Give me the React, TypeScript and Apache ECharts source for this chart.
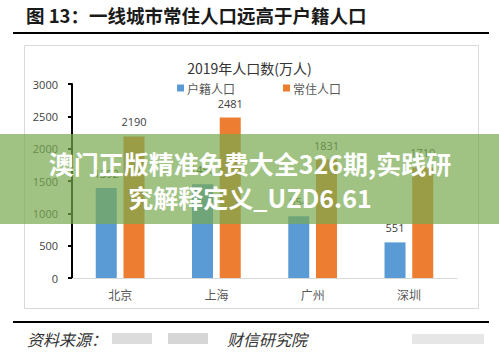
import React, { useEffect, useRef } from "react";
import * as echarts from "echarts";

const categories = ["北京", "上海", "广州", "深圳"];
const huji = [1392, 1450, 954, 551];
const changzhu = [2190, 2481, 1831, 1710];
const seriesNames = ["户籍人口", "常住人口"];
const yTicks = { min: 0, max: 3000, interval: 500 };

const CJK = '"Noto Sans CJK SC", "Noto Sans", sans-serif';

export default function App() {
  const ref = useRef<HTMLDivElement>(null);
  useEffect(() => {
    if (!ref.current) return;
    const chart = echarts.init(ref.current, undefined, { renderer: "svg" });
    chart.setOption({
      animation: false,
      backgroundColor: "#ffffff",
      title: {
        text: "2019年人口数(万人)",
        left: "center",
        top: 56,
        textStyle: { fontFamily: CJK, fontSize: 14, fontWeight: "normal", color: "#333333" },
      },
      legend: {
        data: seriesNames,
        left: 172,
        top: 77,
        itemWidth: 7,
        itemHeight: 7,
        itemGap: 48,
        icon: "rect",
        textStyle: { fontFamily: CJK, fontSize: 12, color: "#595959", padding: [0, 0, 0, -2] },
      },
      grid: { left: 72, right: 42, top: 84, bottom: 80 },
      xAxis: {
        type: "category",
        data: categories,
        axisLine: { lineStyle: { color: "#d9d9d9", width: 1 } },
        axisTick: { show: false },
        axisLabel: { fontFamily: CJK, fontSize: 12, color: "#595959", margin: 10 },
      },
      yAxis: {
        type: "value",
        min: yTicks.min,
        max: yTicks.max,
        interval: yTicks.interval,
        axisLine: { show: true, lineStyle: { color: "#000000", width: 2 } },
        axisTick: { show: true, length: 4, lineStyle: { color: "#000000", width: 2 } },
        splitLine: { show: false },
        axisLabel: {
          fontFamily: '"Open Sans", sans-serif',
          fontSize: 11,
          color: "#404040",
          margin: 14,
          formatter: (v: number) => String(v),
        },
      },
      series: [
        {
          name: seriesNames[0],
          type: "bar",
          data: huji,
          barWidth: 21,
          barGap: "32%",
          itemStyle: { color: "#5b9bd5" },
          label: { show: true, position: "top", distance: 9, fontSize: 11, color: "#404040", fontFamily: '"Open Sans", sans-serif' },
        },
        {
          name: seriesNames[1],
          type: "bar",
          data: changzhu,
          barWidth: 21,
          itemStyle: { color: "#ed7d31" },
          label: { show: true, position: "top", distance: 9, fontSize: 11, color: "#404040", fontFamily: '"Open Sans", sans-serif' },
        },
      ],
      graphic: [
        {
          type: "text",
          left: 26,
          top: 6,
          z: 10,
          style: {
            text: "图 13：一线城市常住人口远高于户籍人口",
            fontFamily: CJK,
            fontSize: 18.5,
            fontWeight: "bold",
            fill: "#1a1a1a",
          },
        },
        { type: "rect", z: 10, shape: { x: 13, y: 32, width: 476, height: 2 }, style: { fill: "#000000" } },
        {
          type: "rect",
          z: -1,
          shape: { x: 24.5, y: 45.5, width: 454, height: 263 },
          style: { fill: "none", stroke: "#d9d9d9", lineWidth: 1 },
        },
        { type: "rect", z: 10, shape: { x: 13, y: 321, width: 476, height: 2 }, style: { fill: "#000000" } },
        {
          type: "text",
          left: 27,
          top: 331,
          z: 10,
          style: { text: "资料来源：", fontFamily: CJK, fontSize: 16, fontStyle: "italic", fill: "#333333" },
        },
        { type: "rect", z: 10, shape: { x: 112, y: 333, width: 40, height: 11 }, style: { fill: "#dcdcdc" } },
        { type: "rect", z: 10, shape: { x: 168, y: 333, width: 40, height: 11 }, style: { fill: "#d6d6d6" } },
        {
          type: "text",
          left: 227,
          top: 331,
          z: 10,
          style: { text: "财信研究院", fontFamily: CJK, fontSize: 16, fontStyle: "italic", fill: "#333333" },
        },
        { type: "rect", z: 10, shape: { x: 412, y: 334, width: 72, height: 10 }, style: { fill: "#e6e6e6" } },
        {
          type: "rect",
          z: 100,
          shape: { x: 0, y: 134, width: 499, height: 90 },
          style: { fill: "rgba(120,170,80,0.7)" },
        },
        {
          type: "text",
          z: 101,
          x: 250,
          y: 163,
          style: {
            text: "澳门正版精准免费大全326期,实践研",
            fontFamily: CJK,
            fontSize: 25,
            fontWeight: "bold",
            fill: "#ffffff",
            align: "center",
            verticalAlign: "middle",
          },
        },
        {
          type: "text",
          z: 101,
          x: 250,
          y: 197,
          style: {
            text: "究解释定义_UZD6.61",
            fontFamily: CJK,
            fontSize: 25,
            fontWeight: "bold",
            fill: "#ffffff",
            align: "center",
            verticalAlign: "middle",
          },
        },
      ],
    });
    return () => chart.dispose();
  }, []);
  return (
    <div
      ref={ref}
      style={{ position: "fixed", left: 0, top: 0, width: 499, height: 358 }}
    />
  );
}
